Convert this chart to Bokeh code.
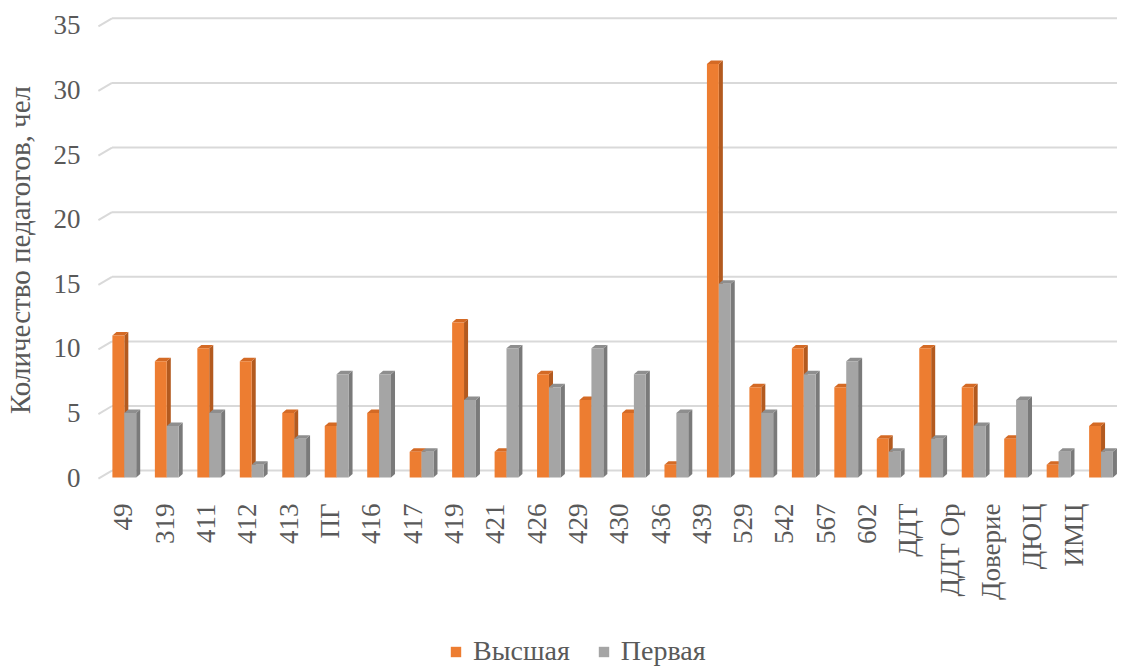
import math
from bokeh.plotting import figure
from bokeh.layouts import column
from bokeh.models import Range1d, LinearAxis, FixedTicker, Legend, LegendItem
from bokeh.embed import file_html
from bokeh.resources import INLINE

# ---- data ----
categories = ["49", "319", "411", "412", "413", "ПГ", "416", "417", "419", "421",
              "426", "429", "430", "436", "439", "529", "542", "567", "602",
              "ДДТ", "ДДТ Ор", "Доверие", "ДЮЦ", "ИМЦ"]
vysshaya = [11, 9, 10, 9, 5, 4, 5, 2, 12, 2, 8, 6, 5, 1, 32, 7, 10, 7, 3, 10, 7, 3, 1, 4]
pervaya = [5, 4, 5, 1, 3, 8, 8, 2, 6, 10, 7, 10, 8, 5, 15, 5, 8, 9, 2, 3, 4, 6, 2, 2]
y_ticks = [0, 5, 10, 15, 20, 25, 30, 35]
series_names = ["Высшая", "Первая"]
y_title = "Количество педагогов, чел"

# ---- style ----
FONT = "'Liberation Serif'"
TXT = "#595959"
ORANGE, ORANGE_SIDE, ORANGE_TOP = "#ED7D31", "#B35A1F", "#D46A25"
GRAY, GRAY_SIDE, GRAY_TOP = "#A5A5A5", "#7A7A7A", "#8E8E8E"
GRID = "#D9D9D9"
BW = 0.28      # bar width (category units)
DX = 0.095     # 3D depth x
DY = 0.27      # 3D depth y
GX0, GX1 = -0.61, -0.29    # grid stub front/back x
GDY0, GDY1 = -0.08, 0.54   # grid stub front/back y offset

X0, X1 = -0.631, 23.388
Y0, Y1 = -0.766, 35.99
W = 1117

p = figure(width=W, height=602, output_backend="svg", toolbar_location=None,
           x_range=Range1d(X0, X1), y_range=Range1d(Y0, Y1),
           x_axis_location=None, min_border_left=89, min_border_right=0,
           min_border_top=12, min_border_bottom=110)
p.outline_line_color = None
p.xgrid.visible = False
p.ygrid.visible = False
p.extra_x_ranges = {"lab": Range1d(-0.624, 24.058)}

# gridlines (back wall + left side stubs)
p.segment(x0=[GX1] * len(y_ticks), y0=[t + GDY1 for t in y_ticks],
          x1=[X1] * len(y_ticks), y1=[t + GDY1 for t in y_ticks],
          line_color=GRID, line_width=2)
p.segment(x0=[GX0] * len(y_ticks), y0=[t + GDY0 for t in y_ticks],
          x1=[GX1] * len(y_ticks), y1=[t + GDY1 for t in y_ticks],
          line_color=GRID, line_width=2)

idx = list(range(len(categories)))
series_style = [(vysshaya, -BW, ORANGE, ORANGE_SIDE, ORANGE_TOP),
                (pervaya, 0.0, GRAY, GRAY_SIDE, GRAY_TOP)]
for vals, off, cf, cs, ct in series_style:
    lefts = [i + off for i in idx]
    rights = [l + BW for l in lefts]
    side_xs = [[r, r, r + DX, r + DX] for r in rights]
    side_ys = [[0, v, v + DY, DY] for v in vals]
    top_xs = [[l, r, r + DX, l + DX] for l, r in zip(lefts, rights)]
    top_ys = [[v, v, v + DY, v + DY] for v in vals]
    p.patches(side_xs, side_ys, fill_color=cs, line_color=None)
    p.patches(top_xs, top_ys, fill_color=ct, line_color=None)
    p.quad(left=lefts, right=rights, bottom=[0] * len(vals), top=vals,
           fill_color=cf, line_color=None)

# y axis
ya = p.yaxis[0]
ya.ticker = FixedTicker(ticks=y_ticks)
ya.axis_line_color = None
ya.major_tick_line_color = None
ya.minor_tick_line_color = None
ya.major_label_text_font = FONT
ya.major_label_text_font_size = "27px"
ya.major_label_text_color = TXT
ya.major_label_standoff = 11
ya.axis_label = y_title
ya.axis_label_text_font = FONT
ya.axis_label_text_font_size = "29px"
ya.axis_label_text_font_style = "normal"
ya.axis_label_text_color = TXT
ya.axis_label_standoff = 15

# x axis (category labels)
xa = LinearAxis(x_range_name="lab", ticker=FixedTicker(ticks=idx),
                major_label_overrides={i: c for i, c in enumerate(categories)})
xa.axis_line_color = None
xa.major_tick_line_color = None
xa.minor_tick_line_color = None
xa.major_label_orientation = math.pi / 2
xa.major_label_text_font = FONT
xa.major_label_text_font_size = "27px"
xa.major_label_text_color = TXT
xa.major_label_standoff = 10
p.add_layout(xa, "below")

# legend strip (swatch renderers lie outside the strip's visible range)
p2 = figure(width=W, height=65, output_backend="svg", toolbar_location=None,
            x_range=Range1d(0, 1), y_range=Range1d(0, 1),
            x_axis_location=None, y_axis_location=None,
            min_border_left=0, min_border_right=0, min_border_top=0, min_border_bottom=0)
p2.outline_line_color = None
p2.xgrid.visible = False
p2.ygrid.visible = False
swatches = [p2.quad(left=[-3], right=[-2], bottom=[-3], top=[-2],
                    fill_color=s[2], line_color=None) for s in series_style]
legend = Legend(items=[LegendItem(label=n, renderers=[r]) for n, r in zip(series_names, swatches)],
                orientation="horizontal", location=(352, 0),
                glyph_width=13, glyph_height=13, label_standoff=11, spacing=27,
                padding=0, margin=0, border_line_color=None,
                background_fill_alpha=0,
                label_text_font=FONT, label_text_font_size="28px",
                label_text_color=TXT)
p2.add_layout(legend, "center")

open("out.html", "w").write(file_html(column(p, p2), INLINE))
